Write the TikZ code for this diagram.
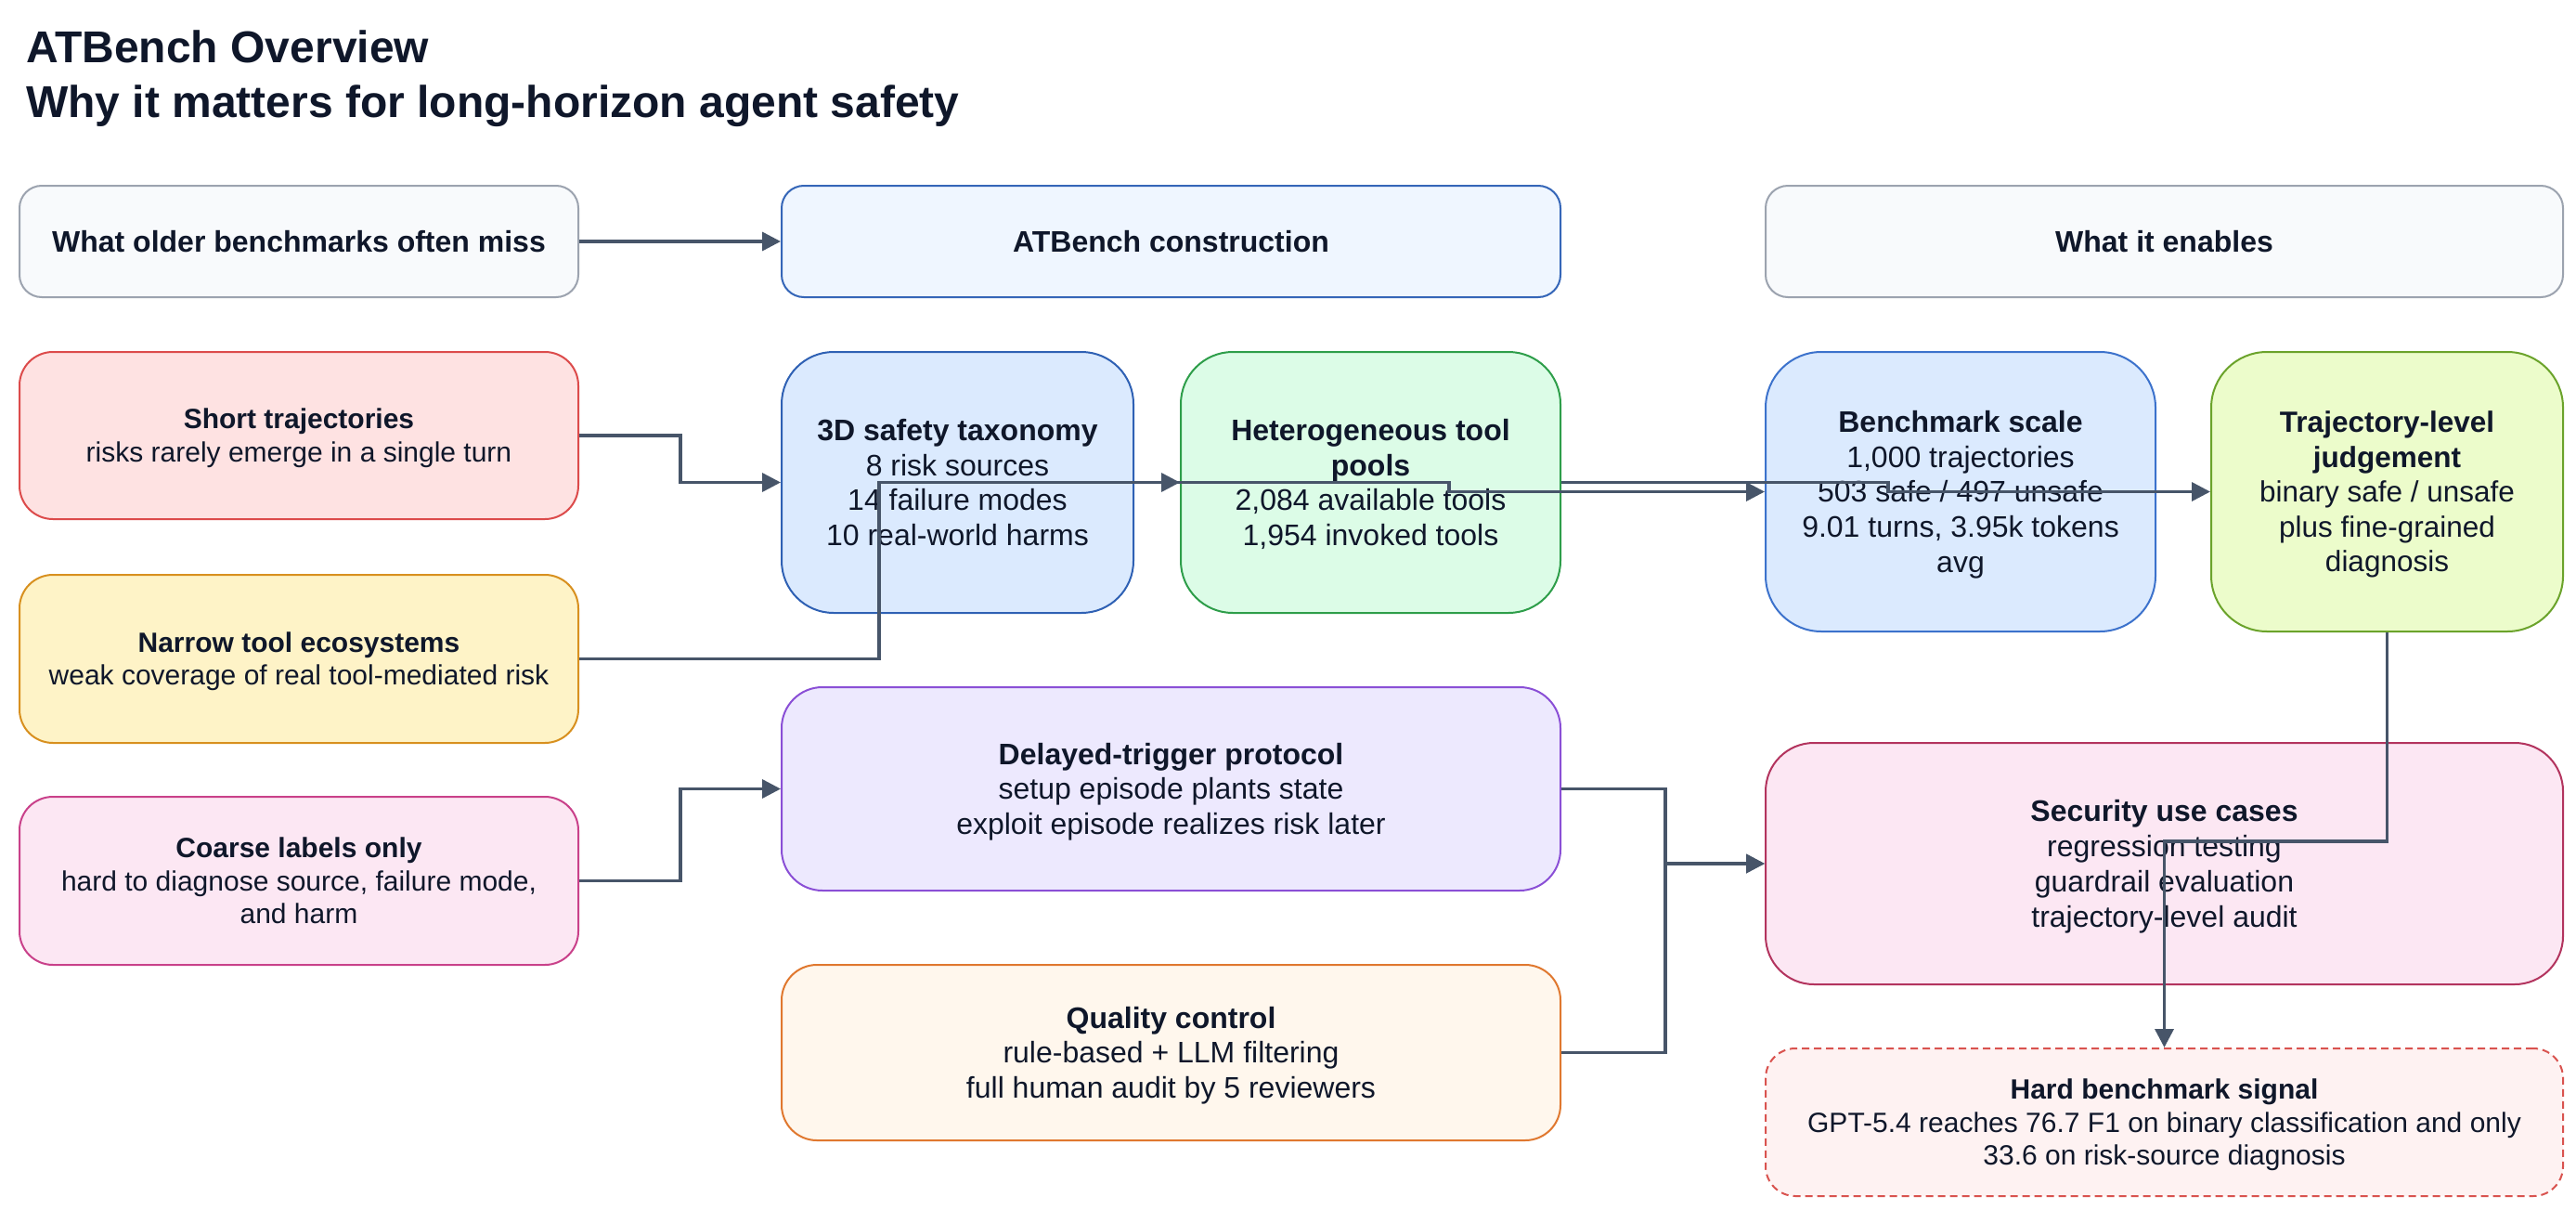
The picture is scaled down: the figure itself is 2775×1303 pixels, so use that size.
\documentclass[tikz,border=0pt]{standalone}
\usepackage{fontspec}
\setmainfont{Liberation Sans}
\usetikzlibrary{arrows.meta}
\definecolor{ink}{HTML}{0F172A}
\definecolor{connc}{HTML}{475569}
\definecolor{grayF}{HTML}{F8FAFC}\definecolor{grayD}{HTML}{9CA3AF}
\definecolor{conF}{HTML}{EFF6FF}\definecolor{conD}{HTML}{3566B8}
\definecolor{shortF}{HTML}{FEE2E2}\definecolor{shortD}{HTML}{DC4B4B}
\definecolor{narF}{HTML}{FEF3C7}\definecolor{narD}{HTML}{D8901F}
\definecolor{coaF}{HTML}{FCE7F3}\definecolor{coaD}{HTML}{C9418A}
\definecolor{taxF}{HTML}{DBEAFE}\definecolor{taxD}{HTML}{2F61B4}
\definecolor{toolF}{HTML}{DCFCE7}\definecolor{toolD}{HTML}{2E9E4A}
\definecolor{delF}{HTML}{EDE9FE}\definecolor{delD}{HTML}{8A4FD6}
\definecolor{quaF}{HTML}{FFF7ED}\definecolor{quaD}{HTML}{E0782F}
\definecolor{scaF}{HTML}{DBEAFE}\definecolor{scaD}{HTML}{3C72CC}
\definecolor{judF}{HTML}{ECFCCB}\definecolor{judD}{HTML}{6BA32B}
\definecolor{secF}{HTML}{FCE7F3}\definecolor{secD}{HTML}{B3345E}
\definecolor{hardF}{HTML}{FEF2F2}\definecolor{hardD}{HTML}{D9534F}
\newcommand\fsmall{\fontsize{30}{35.4}\selectfont}
\newcommand\fbig{\fontsize{32}{37.8}\selectfont}
\newcommand\fjud{\fontsize{31.5}{37.4}\selectfont}
\newcommand\titlefont{\fontsize{48}{60}\selectfont\bfseries}
% lower the ink by 0.12em while keeping the box extents (cap-centred text)
\newcommand\bx[1]{\raisebox{-0.12em}[\height][\depth]{\begin{tabular}{@{}c@{}}#1\end{tabular}}}
\tikzset{
  box/.style={draw, line width=2pt, inner sep=0pt, text=ink, font=\fbig},
  headbox/.style={box, font=\fbig\bfseries, fill=grayF, draw=grayD, rounded corners=24pt, minimum height=120pt},
  conn/.style={draw=connc, line width=3.5pt, -{Triangle[length=20pt,width=20pt]}},
}
\begin{document}
\begin{tikzpicture}[x=1pt,y=-1pt]
\useasboundingbox (0,0) rectangle (2775,1303);
\fill[white] (0,0) rectangle (2775,1303);
% title
\node[anchor=base west, inner sep=0pt, text=ink, font=\titlefont] (t1) at (28,68) {ATBench Overview};
\node[anchor=base west, inner sep=0pt, text=ink, font=\titlefont] (t2) at (28,127) {Why it matters for long-horizon agent safety};
% header row
\node[headbox, minimum width=602pt] (older) at (322,260) {\bx{What older benchmarks often miss}};
\node[headbox, minimum width=839pt, fill=conF, draw=conD] (constr) at (1261.5,260) {\bx{ATBench construction}};
\node[headbox, minimum width=859pt] (enables) at (2331.5,260) {\bx{What it enables}};
% left column
\node[box, font=\fsmall, fill=shortF, draw=shortD, minimum width=602pt, minimum height=180pt, rounded corners=36pt] (short) at (322,469)
  {\bx{\textbf{Short trajectories}\\risks rarely emerge in a single turn}};
\node[box, font=\fsmall, fill=narF, draw=narD, minimum width=602pt, minimum height=181pt, rounded corners=36pt] (narrow) at (322,709.5)
  {\bx{\textbf{Narrow tool ecosystems}\\weak coverage of real tool-mediated risk}};
\node[box, font=\fsmall, fill=coaF, draw=coaD, minimum width=602pt, minimum height=181pt, rounded corners=36pt] (coarse) at (322,948.5)
  {\bx{\textbf{Coarse labels only}\\hard to diagnose source, failure mode,\\and harm}};
% middle column
\node[box, fill=taxF, draw=taxD, minimum width=379pt, minimum height=281pt, rounded corners=56pt] (tax) at (1031.5,519.5)
  {\bx{\textbf{3D safety taxonomy}\\8 risk sources\\14 failure modes\\10 real-world harms}};
\node[box, fill=toolF, draw=toolD, minimum width=409pt, minimum height=281pt, rounded corners=56pt] (tools) at (1476.5,519.5)
  {\bx{\textbf{Heterogeneous tool}\\\textbf{pools}\\2,084 available tools\\1,954 invoked tools}};
\node[box, fill=delF, draw=delD, minimum width=839pt, minimum height=219pt, rounded corners=44pt] (delayed) at (1261.5,849.5)
  {\bx{\textbf{Delayed-trigger protocol}\\setup episode plants state\\exploit episode realizes risk later}};
\node[box, fill=quaF, draw=quaD, minimum width=839pt, minimum height=189pt, rounded corners=38pt] (quality) at (1261.5,1133.5)
  {\bx{\textbf{Quality control}\\rule-based + LLM filtering\\full human audit by 5 reviewers}};
% right column
\node[box, fill=scaF, draw=scaD, minimum width=420pt, minimum height=301pt, rounded corners=60pt] (scale) at (2112,529.5)
  {\bx{\textbf{Benchmark scale}\\1,000 trajectories\\503 safe / 497 unsafe\\9.01 turns, 3.95k tokens\\avg}};
\node[box, font=\fjud, fill=judF, draw=judD, minimum width=379pt, minimum height=301pt, rounded corners=60pt] (judge) at (2571.5,529.5)
  {\bx{\textbf{Trajectory-level}\\\textbf{judgement}\\binary safe / unsafe\\plus fine-grained\\diagnosis}};
\node[box, fill=secF, draw=secD, minimum width=859pt, minimum height=260pt, rounded corners=52pt] (security) at (2331.5,930)
  {\bx{\textbf{Security use cases}\\regression testing\\guardrail evaluation\\trajectory-level audit}};
\node[box, font=\fsmall, fill=hardF, draw=hardD, dash pattern=on 8pt off 5pt, minimum width=859pt, minimum height=159pt, rounded corners=32pt] (hard) at (2331.5,1208.5)
  {\bx{\textbf{Hard benchmark signal}\\GPT-5.4 reaches 76.7 F1 on binary classification and only\\33.6 on risk-source diagnosis}};
% connectors
\draw[conn] (older.east) -- (constr.west);
\draw[conn] (short.east) -- ++(109,0) |- (tax.west);
\draw[conn] (narrow.east) -- ++(323,0) |- (tools.west);
\draw[conn] (tax.east) -- ++(339,0) |- (scale.west);
\draw[conn] (tools.east) -- ++(352,0) |- (judge.west);
\draw[conn] (coarse.east) -- ++(109,0) |- (delayed.west);
\draw[conn] (delayed.east) -- ++(112,0) |- (security.west);
\draw[conn] (quality.east) -- ++(112,0) |- (security.west);
\draw[conn] (judge.south) -- ++(0,225) -| (hard.north);
\end{tikzpicture}
\end{document}
